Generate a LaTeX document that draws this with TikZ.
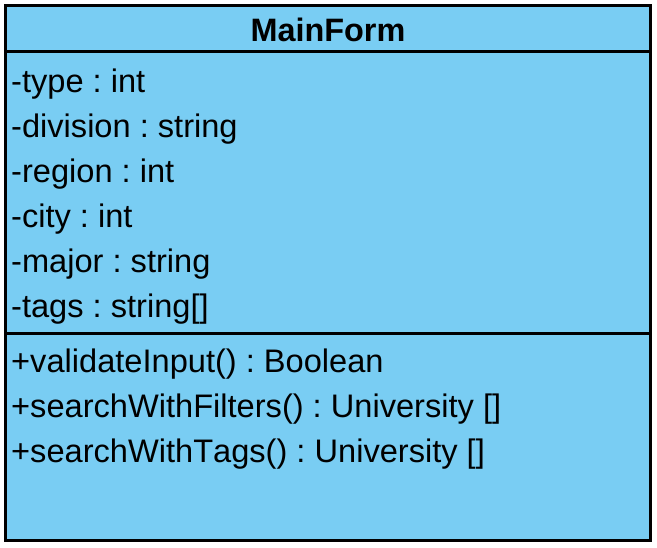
\documentclass[tikz,border=0pt]{standalone}
\usepackage{fontspec}
\setmainfont[Kerning=Off]{Liberation Sans}
\frenchspacing
\definecolor{classfill}{RGB}{121,205,243}
\begin{document}
\begin{tikzpicture}[x=1pt,y=-1pt,
  member/.style={anchor=base west,inner sep=0pt,font=\fontsize{32.6}{38}\selectfont},
  title/.style={anchor=base,inner sep=0pt,font=\fontsize{32.4}{38}\selectfont\bfseries},
  frame/.style={line width=3pt,draw=black}]
\useasboundingbox (0,0) rectangle (657,548);
% class box
\path[fill=classfill] (5.5,6) rectangle (650.5,540.5);
\draw[frame] (5.5,51.5) -- (650.5,51.5);
\draw[frame] (5.5,334) -- (650.5,334);
\draw[frame] (5.5,6) rectangle (650.5,540.5);
% class name
\node[title] (name) at (328,42) {MainForm};
% attributes
\node[member] (a1) at (11,93) {-type : int};
\node[member] (a2) at (11,138) {-division : string};
\node[member] (a3) at (11,183) {-region : int};
\node[member] (a4) at (11,228) {-city : int};
\node[member] (a5) at (11,273) {-major : string};
\node[member] (a6) at (11,318) {-tags : string[]};
% operations
\node[member] (m1) at (11,373) {+validateInput() : Boolean};
\node[member] (m2) at (11,418) {+searchWithFilters() : University []};
\node[member] (m3) at (11,463) {+searchWithTags() : University []};
\end{tikzpicture}
\end{document}
